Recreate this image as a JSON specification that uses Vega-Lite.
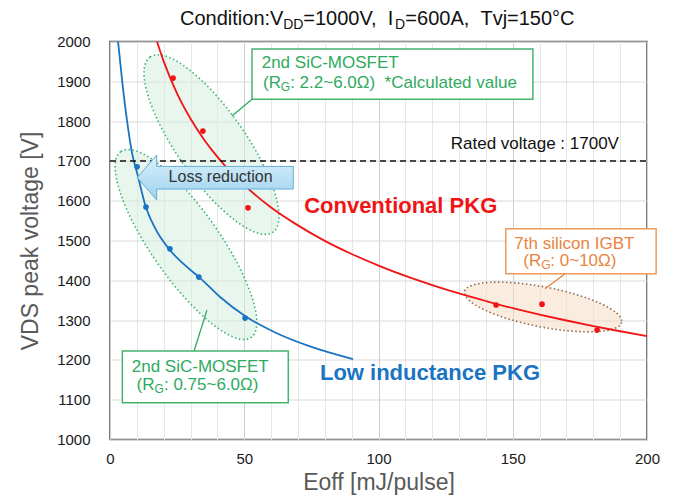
{
  "$schema": "https://vega.github.io/schema/vega-lite/v6.json",
  "width": 537,
  "height": 398,
  "autosize": "none",
  "padding": {"left": 110, "top": 41.5, "right": 28, "bottom": 59.5},
  "config": {
    "font": "Liberation Sans",
    "view": {"stroke": "#505050", "strokeWidth": 1.5}
  },
  "datasets": {
    "curves": [
      {"group": "Conventional PKG", "eoff": 17.5, "vds": 2000},
      {"group": "Conventional PKG", "eoff": 20, "vds": 1950},
      {"group": "Conventional PKG", "eoff": 25, "vds": 1869},
      {"group": "Conventional PKG", "eoff": 30, "vds": 1806},
      {"group": "Conventional PKG", "eoff": 35, "vds": 1754},
      {"group": "Conventional PKG", "eoff": 40, "vds": 1710},
      {"group": "Conventional PKG", "eoff": 45, "vds": 1672},
      {"group": "Conventional PKG", "eoff": 50, "vds": 1639},
      {"group": "Conventional PKG", "eoff": 60, "vds": 1583},
      {"group": "Conventional PKG", "eoff": 70, "vds": 1538},
      {"group": "Conventional PKG", "eoff": 80, "vds": 1499},
      {"group": "Conventional PKG", "eoff": 90, "vds": 1466},
      {"group": "Conventional PKG", "eoff": 100, "vds": 1437},
      {"group": "Conventional PKG", "eoff": 110, "vds": 1411},
      {"group": "Conventional PKG", "eoff": 120, "vds": 1388},
      {"group": "Conventional PKG", "eoff": 130, "vds": 1367},
      {"group": "Conventional PKG", "eoff": 140, "vds": 1348},
      {"group": "Conventional PKG", "eoff": 150, "vds": 1330},
      {"group": "Conventional PKG", "eoff": 160, "vds": 1314},
      {"group": "Conventional PKG", "eoff": 170, "vds": 1299},
      {"group": "Conventional PKG", "eoff": 180, "vds": 1285},
      {"group": "Conventional PKG", "eoff": 190, "vds": 1272},
      {"group": "Conventional PKG", "eoff": 200, "vds": 1260},
      {"group": "Low inductance PKG", "eoff": 3.0, "vds": 2000},
      {"group": "Low inductance PKG", "eoff": 4.5, "vds": 1903},
      {"group": "Low inductance PKG", "eoff": 6.3, "vds": 1803},
      {"group": "Low inductance PKG", "eoff": 8.2, "vds": 1720},
      {"group": "Low inductance PKG", "eoff": 10.4, "vds": 1662},
      {"group": "Low inductance PKG", "eoff": 13, "vds": 1592},
      {"group": "Low inductance PKG", "eoff": 16.8, "vds": 1531},
      {"group": "Low inductance PKG", "eoff": 22.3, "vds": 1476},
      {"group": "Low inductance PKG", "eoff": 27.9, "vds": 1438},
      {"group": "Low inductance PKG", "eoff": 33.5, "vds": 1406},
      {"group": "Low inductance PKG", "eoff": 41, "vds": 1358},
      {"group": "Low inductance PKG", "eoff": 50.3, "vds": 1310},
      {"group": "Low inductance PKG", "eoff": 61.5, "vds": 1269},
      {"group": "Low inductance PKG", "eoff": 74.5, "vds": 1234},
      {"group": "Low inductance PKG", "eoff": 90.5, "vds": 1202}
    ],
    "measured": [
      {"group": "Conventional PKG", "eoff": 23.5, "vds": 1908},
      {"group": "Conventional PKG", "eoff": 34.6, "vds": 1775},
      {"group": "Conventional PKG", "eoff": 51.4, "vds": 1582},
      {"group": "Conventional PKG", "eoff": 143.8, "vds": 1338},
      {"group": "Conventional PKG", "eoff": 160.9, "vds": 1340},
      {"group": "Conventional PKG", "eoff": 181.4, "vds": 1275},
      {"group": "Low inductance PKG", "eoff": 10.1, "vds": 1685},
      {"group": "Low inductance PKG", "eoff": 13.4, "vds": 1584},
      {"group": "Low inductance PKG", "eoff": 22.3, "vds": 1479},
      {"group": "Low inductance PKG", "eoff": 33.1, "vds": 1408},
      {"group": "Low inductance PKG", "eoff": 50.3, "vds": 1305}
    ],
    "ellipses": [
      {"name": "upper", "eoff": 37.8, "vds": 1741},
      {"name": "lower", "eoff": 28.3, "vds": 1490},
      {"name": "igbt", "eoff": 161.3, "vds": 1333}
    ],
    "boxes": [
      {"group": "SiC", "eoff": 52.9, "eoff2": 157.5, "vds": 1981, "vds2": 1855},
      {"group": "SiC", "eoff": 4.6, "eoff2": 66.4, "vds": 1222.4, "vds2": 1092.4},
      {"group": "IGBT", "eoff": 147.4, "eoff2": 203.4, "vds": 1529.7, "vds2": 1416.6}
    ],
    "leaders": [
      {"group": "SiC", "eoff": 45.4, "vds": 1813, "eoff2": 52.9, "vds2": 1855},
      {"group": "SiC", "eoff": 36.1, "vds": 1325, "eoff2": 31.3, "vds2": 1222.4},
      {"group": "IGBT", "eoff": 169.5, "vds": 1416.6, "eoff2": 162.0, "vds2": 1378.6}
    ],
    "rated": [{"eoff": 0, "eoff2": 200, "vds": 1700, "vds2": 1700}],
    "arrow": [{"eoff": 39.2, "vds": 1658.3}],
    "labels": [
      {"role": "title", "group": "note", "text": "Condition:V", "eoff": 26.07, "vds": 2041.5},
      {"role": "titlesub", "group": "note", "text": "DD", "eoff": 64.5, "vds": 2031.5},
      {"role": "title", "group": "note", "text": "=1000V, \u00a0I", "eoff": 72.0, "vds": 2041.5},
      {"role": "titlesub", "group": "note", "text": "D", "eoff": 106.1, "vds": 2031.5},
      {"role": "title", "group": "note", "text": "=600A, \u00a0Tvj=150°C", "eoff": 110.0, "vds": 2041.5},
      {"role": "box", "group": "SiC", "text": "2nd SiC-MOSFET", "eoff": 56.5, "vds": 1933.4},
      {"role": "box", "group": "SiC", "text": "(R", "eoff": 57.0, "vds": 1883.2},
      {"role": "boxsub", "group": "SiC", "text": "G", "eoff": 63.6, "vds": 1875.7},
      {"role": "box", "group": "SiC", "text": ": 2.2~6.0Ω) \u00a0*Calculated value", "eoff": 67.1, "vds": 1883.2},
      {"role": "box", "group": "SiC", "text": "2nd SiC-MOSFET", "eoff": 8.1, "vds": 1170.4},
      {"role": "box", "group": "SiC", "text": "(R", "eoff": 9.9, "vds": 1124.4},
      {"role": "boxsub", "group": "SiC", "text": "G", "eoff": 16.6, "vds": 1116.9},
      {"role": "box", "group": "SiC", "text": ": 0.75~6.0Ω)", "eoff": 20.1, "vds": 1124.4},
      {"role": "box", "group": "IGBT", "text": "7th silicon IGBT", "eoff": 150.6, "vds": 1479.4},
      {"role": "box", "group": "IGBT", "text": "(R", "eoff": 153.9, "vds": 1435.2},
      {"role": "boxsub", "group": "IGBT", "text": "G", "eoff": 160.6, "vds": 1427.7},
      {"role": "box", "group": "IGBT", "text": ": 0~10Ω)", "eoff": 164.0, "vds": 1435.2},
      {"role": "rated", "group": "note", "text": "Rated voltage : 1700V", "eoff": 126.9, "vds": 1729.9},
      {"role": "pkg", "group": "Conventional PKG", "text": "Conventional PKG", "eoff": 72.3, "vds": 1568.3},
      {"role": "pkg", "group": "Low inductance PKG", "text": "Low inductance PKG", "eoff": 78.2, "vds": 1149.5},
      {"role": "arrowtext", "group": "arrow", "text": "Loss reduction", "eoff": 41.2, "vds": 1647.8}
    ]
  },
  "encoding": {
    "x": {"field": "eoff", "type": "quantitative", "scale": {"domain": [0, 200], "nice": false, "zero": false},
      "axis": {"title": "Eoff [mJ/pulse]", "values": [0,10,20,30,40,50,60,70,80,90,100,110,120,130,140,150,160,170,180,190,200],
        "labelExpr": "datum.value % 50 === 0 ? datum.label : ''", "ticks": false, "domain": false, "grid": true,
        "gridColor": {"condition": {"test": "datum.value % 50 === 0", "value": "#cfcfcf"}, "value": "#e6e6e6"},
        "labelFontSize": 15, "labelColor": "#1a1a1a", "labelPadding": 12, "labelFlush": false, "labelOverlap": false,
        "titleFontSize": 23, "titleFontWeight": "normal", "titleColor": "#595959", "titlePadding": 5}},
    "y": {"field": "vds", "type": "quantitative", "scale": {"domain": [1000, 2000], "nice": false, "zero": false},
      "axis": {"title": "VDS peak voltage [V]", "values": [1000,1100,1200,1300,1400,1500,1600,1700,1800,1900,2000], "format": "d",
        "ticks": false, "domain": false, "grid": true, "gridColor": "#d9d9d9",
        "labelFontSize": 15, "labelColor": "#1a1a1a", "labelPadding": 20, "labelOverlap": false,
        "titleFontSize": 23, "titleFontWeight": "normal", "titleColor": "#595959", "titlePadding": 14}}
  },
  "layer": [
    {
      "data": {"name": "ellipses"},
      "transform": [{"filter": "datum.name === 'upper'"}],
      "mark": {"type": "point", "shape": "M0,-1C0.1767,-1,0.32,-0.5523,0.32,0C0.32,0.5523,0.1767,1,0,1C-0.1767,1,-0.32,0.5523,-0.32,0C-0.32,-0.5523,-0.1767,-1,0,-1Z", "size": 45796, "angle": 325, "filled": true, "fill": "#d3eedc", "fillOpacity": 0.5, "stroke": "#3cb371", "strokeWidth": 1.6, "strokeDash": [1.5, 2.5], "opacity": 1}
    },
    {
      "data": {"name": "ellipses"},
      "transform": [{"filter": "datum.name === 'lower'"}],
      "mark": {"type": "point", "shape": "M0,-1C0.1657,-1,0.3,-0.5523,0.3,0C0.3,0.5523,0.1657,1,0,1C-0.1657,1,-0.3,0.5523,-0.3,0C-0.3,-0.5523,-0.1657,-1,0,-1Z", "size": 51529, "angle": 325, "filled": true, "fill": "#d3eedc", "fillOpacity": 0.5, "stroke": "#3cb371", "strokeWidth": 1.6, "strokeDash": [1.5, 2.5], "opacity": 1}
    },
    {
      "data": {"name": "ellipses"},
      "transform": [{"filter": "datum.name === 'igbt'"}],
      "mark": {"type": "point", "shape": "M0,-1C0.1381,-1,0.25,-0.5523,0.25,0C0.25,0.5523,0.1381,1,0,1C-0.1381,1,-0.25,0.5523,-0.25,0C-0.25,-0.5523,-0.1381,-1,0,-1Z", "size": 25600, "angle": 101, "filled": true, "fill": "#f7dcc6", "fillOpacity": 0.55, "stroke": "#8c6d4f", "strokeWidth": 1.6, "strokeDash": [1.5, 2.5], "opacity": 1}
    },
    {
      "data": {"name": "curves"},
      "mark": {"type": "line", "strokeWidth": 1.8, "interpolate": "monotone"},
      "encoding": {
        "color": {"field": "group", "type": "nominal", "legend": null, "scale": {"domain": ["Conventional PKG", "Low inductance PKG", "SiC", "IGBT", "note", "arrow"], "range": ["#f01414", "#1a74c2", "#2eaa5e", "#e8843e", "#111111", "#333333"]}}
      }
    },
    {
      "data": {"name": "measured"},
      "mark": {"type": "point", "filled": true, "size": 32, "opacity": 1},
      "encoding": {
        "color": {"field": "group", "type": "nominal", "legend": null, "scale": {"domain": ["Conventional PKG", "Low inductance PKG", "SiC", "IGBT", "note", "arrow"], "range": ["#f01414", "#1a74c2", "#2eaa5e", "#e8843e", "#111111", "#333333"]}}
      }
    },
    {
      "data": {"name": "rated"},
      "mark": {"type": "rule", "color": "#111111", "strokeWidth": 1.5, "strokeDash": [6, 4]},
      "encoding": {
        "x2": {"field": "eoff2"},
        "y2": {"field": "vds2"}
      }
    },
    {
      "data": {"name": "arrow"},
      "mark": {"type": "point", "shape": "M-1,0L-0.751,-0.288L-0.751,-0.142L1,-0.142L1,0.148L-0.751,0.148L-0.751,0.288Z", "size": 24336, "filled": true, "opacity": 1,
        "fill": {"gradient": "linear", "x1": 0, "y1": 0, "x2": 0, "y2": 1, "stops": [{"offset": 0, "color": "#dcf1fb"}, {"offset": 1, "color": "#9dd2ef"}]},
        "stroke": "#62aed8", "strokeWidth": 1}
    },
    {
      "data": {"name": "boxes"},
      "mark": {"type": "rect", "fill": "#ffffff", "strokeWidth": 1.5},
      "encoding": {
        "x2": {"field": "eoff2"},
        "y2": {"field": "vds2"},
        "stroke": {"field": "group", "type": "nominal", "legend": null, "scale": {"domain": ["SiC", "IGBT"], "range": ["#46b470", "#ef9a5c"]}}
      }
    },
    {
      "data": {"name": "leaders"},
      "mark": {"type": "rule", "strokeWidth": 1.3},
      "encoding": {
        "x2": {"field": "eoff2"},
        "y2": {"field": "vds2"},
        "color": {"field": "group", "type": "nominal", "legend": null, "scale": {"domain": ["Conventional PKG", "Low inductance PKG", "SiC", "IGBT", "note", "arrow"], "range": ["#f01414", "#1a74c2", "#2eaa5e", "#e8843e", "#111111", "#333333"]}}
      }
    },
    {
      "data": {"name": "labels"},
      "transform": [{"filter": "datum.role === 'title'"}],
      "mark": {"type": "text", "align": "left", "baseline": "alphabetic", "fontSize": 20},
      "encoding": {
        "text": {"field": "text"},
        "color": {"field": "group", "type": "nominal", "legend": null, "scale": {"domain": ["Conventional PKG", "Low inductance PKG", "SiC", "IGBT", "note", "arrow"], "range": ["#f01414", "#1a74c2", "#2eaa5e", "#e8843e", "#111111", "#333333"]}}
      }
    },
    {
      "data": {"name": "labels"},
      "transform": [{"filter": "datum.role === 'titlesub'"}],
      "mark": {"type": "text", "align": "left", "baseline": "alphabetic", "fontSize": 14},
      "encoding": {
        "text": {"field": "text"},
        "color": {"field": "group", "type": "nominal", "legend": null, "scale": {"domain": ["Conventional PKG", "Low inductance PKG", "SiC", "IGBT", "note", "arrow"], "range": ["#f01414", "#1a74c2", "#2eaa5e", "#e8843e", "#111111", "#333333"]}}
      }
    },
    {
      "data": {"name": "labels"},
      "transform": [{"filter": "datum.role === 'box'"}],
      "mark": {"type": "text", "align": "left", "baseline": "alphabetic", "fontSize": 17},
      "encoding": {
        "text": {"field": "text"},
        "color": {"field": "group", "type": "nominal", "legend": null, "scale": {"domain": ["Conventional PKG", "Low inductance PKG", "SiC", "IGBT", "note", "arrow"], "range": ["#f01414", "#1a74c2", "#2eaa5e", "#e8843e", "#111111", "#333333"]}}
      }
    },
    {
      "data": {"name": "labels"},
      "transform": [{"filter": "datum.role === 'boxsub'"}],
      "mark": {"type": "text", "align": "left", "baseline": "alphabetic", "fontSize": 12},
      "encoding": {
        "text": {"field": "text"},
        "color": {"field": "group", "type": "nominal", "legend": null, "scale": {"domain": ["Conventional PKG", "Low inductance PKG", "SiC", "IGBT", "note", "arrow"], "range": ["#f01414", "#1a74c2", "#2eaa5e", "#e8843e", "#111111", "#333333"]}}
      }
    },
    {
      "data": {"name": "labels"},
      "transform": [{"filter": "datum.role === 'rated'"}],
      "mark": {"type": "text", "align": "left", "baseline": "alphabetic", "fontSize": 17},
      "encoding": {
        "text": {"field": "text"},
        "color": {"field": "group", "type": "nominal", "legend": null, "scale": {"domain": ["Conventional PKG", "Low inductance PKG", "SiC", "IGBT", "note", "arrow"], "range": ["#f01414", "#1a74c2", "#2eaa5e", "#e8843e", "#111111", "#333333"]}}
      }
    },
    {
      "data": {"name": "labels"},
      "transform": [{"filter": "datum.role === 'pkg'"}],
      "mark": {"type": "text", "align": "left", "baseline": "alphabetic", "fontSize": 22, "fontWeight": "bold"},
      "encoding": {
        "text": {"field": "text"},
        "color": {"field": "group", "type": "nominal", "legend": null, "scale": {"domain": ["Conventional PKG", "Low inductance PKG", "SiC", "IGBT", "note", "arrow"], "range": ["#f01414", "#1a74c2", "#2eaa5e", "#e8843e", "#111111", "#333333"]}}
      }
    },
    {
      "data": {"name": "labels"},
      "transform": [{"filter": "datum.role === 'arrowtext'"}],
      "mark": {"type": "text", "align": "center", "baseline": "alphabetic", "fontSize": 16},
      "encoding": {
        "text": {"field": "text"},
        "color": {"field": "group", "type": "nominal", "legend": null, "scale": {"domain": ["Conventional PKG", "Low inductance PKG", "SiC", "IGBT", "note", "arrow"], "range": ["#f01414", "#1a74c2", "#2eaa5e", "#e8843e", "#111111", "#333333"]}}
      }
    }
  ]
}
